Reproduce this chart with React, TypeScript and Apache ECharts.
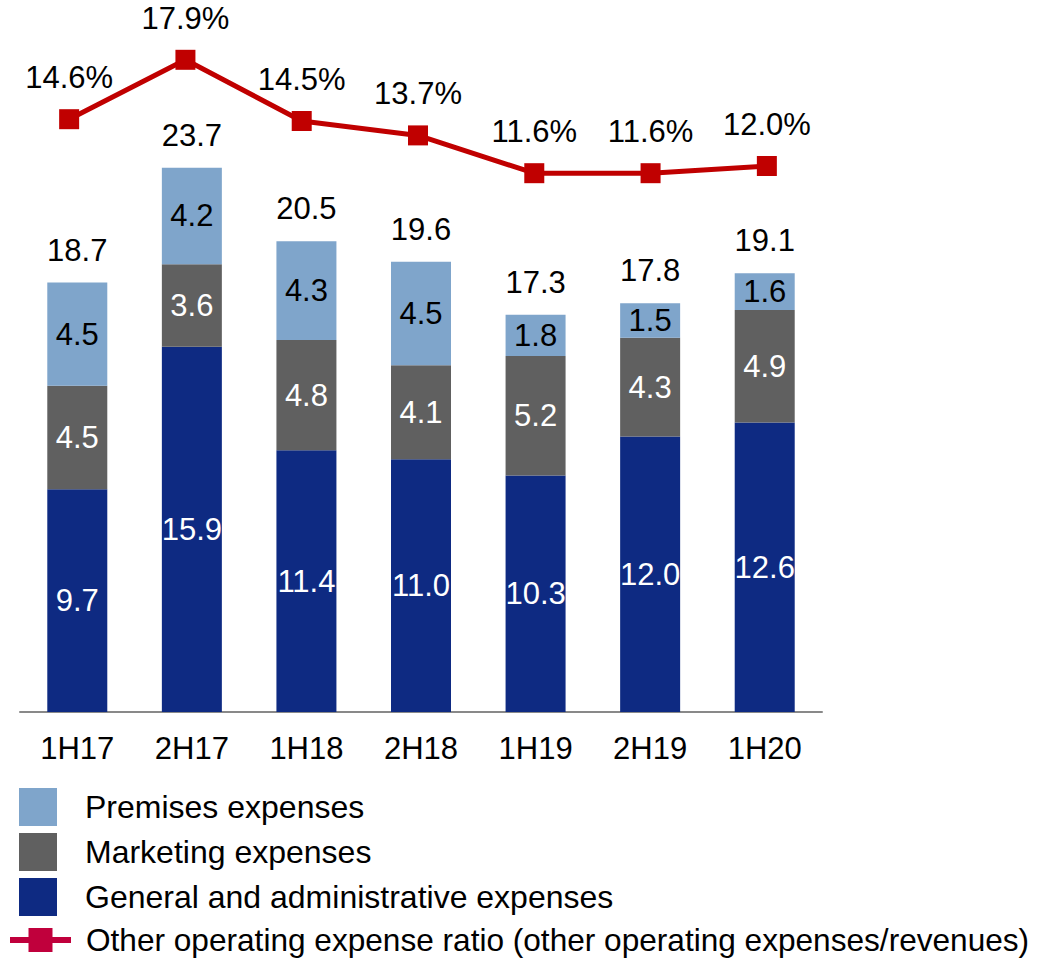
import React, { useEffect, useRef } from 'react';
import * as echarts from 'echarts';

const categories = ['1H17', '2H17', '1H18', '2H18', '1H19', '2H19', '1H20'];
const generalAdmin = [9.7, 15.9, 11.4, 11.0, 10.3, 12.0, 12.6];
const marketing = [4.5, 3.6, 4.8, 4.1, 5.2, 4.3, 4.9];
const premises = [4.5, 4.2, 4.3, 4.5, 1.8, 1.5, 1.6];
const totals = [18.7, 23.7, 20.5, 19.6, 17.3, 17.8, 19.1];
const ratio = [14.6, 17.9, 14.5, 13.7, 11.6, 11.6, 12.0];

const NAME_PREM = 'Premises expenses';
const NAME_MKT = 'Marketing expenses';
const NAME_GA = 'General and administrative expenses';
const NAME_RATIO = 'Other operating expense ratio (other operating expenses/revenues)';

const FONT = "'Liberation Sans', Arial, Helvetica, sans-serif";
const FS = 31;
const LFS = 32;

export default function App() {
  const ref = useRef<HTMLDivElement>(null);
  useEffect(() => {
    if (!ref.current) return;
    const chart = echarts.init(ref.current, undefined, { renderer: 'svg' });
    const fmt1 = (p: any) => Number(p.value).toFixed(1);
    chart.setOption({
      animation: false,
      backgroundColor: '#ffffff',
      textStyle: { fontFamily: FONT },
      grid: [
        { left: 20, top: 23, width: 802, height: 689 },
        { left: 11, top: 22, width: 814, height: 360 },
      ],
      xAxis: [
        {
          gridIndex: 0,
          type: 'category',
          data: categories,
          axisLine: { lineStyle: { color: '#898989', width: 2 } },
          axisTick: { show: false },
          axisLabel: { fontSize: FS, color: '#000', margin: 21, fontFamily: FONT },
        },
        { gridIndex: 1, type: 'category', data: categories, show: false },
      ],
      yAxis: [
        { gridIndex: 0, type: 'value', min: 0, max: 30, show: false },
        { gridIndex: 1, type: 'value', min: 0, max: 20, show: false },
      ],
      legend: [
        {
          data: [NAME_PREM, NAME_MKT, NAME_GA],
          orient: 'vertical',
          left: 14,
          top: 783,
          itemWidth: 38,
          itemHeight: 38,
          itemGap: 7,
          icon: 'rect',
          selectedMode: false,
          textStyle: { fontSize: LFS, color: '#000', fontFamily: FONT, padding: [0, 0, 0, 23] },
        },
        {
          data: [
            {
              name: NAME_RATIO,
              itemStyle: { color: '#c0003c' },
              lineStyle: { color: '#c0003c', width: 6 },
            },
          ],
          left: 7,
          top: 924,
          padding: 0,
          itemWidth: 61,
          itemHeight: 30,
          selectedMode: false,
          textStyle: { fontSize: 31.6, color: '#000', fontFamily: FONT, padding: [0, 0, 0, 10] },
        },
      ],
      series: [
        {
          name: NAME_GA,
          type: 'bar',
          stack: 'exp',
          barWidth: 60,
          data: generalAdmin,
          itemStyle: { color: '#0e2a82' },
          label: { show: true, position: 'inside', color: '#fff', fontSize: FS, fontFamily: FONT, formatter: fmt1 },
        },
        {
          name: NAME_MKT,
          type: 'bar',
          stack: 'exp',
          barWidth: 60,
          data: marketing,
          itemStyle: { color: '#606060' },
          label: { show: true, position: 'inside', color: '#fff', fontSize: FS, fontFamily: FONT, formatter: fmt1 },
        },
        {
          name: NAME_PREM,
          type: 'bar',
          stack: 'exp',
          barWidth: 60,
          data: premises,
          itemStyle: { color: '#7fa5cb' },
          label: { show: true, position: 'inside', color: '#000', fontSize: FS, fontFamily: FONT, formatter: fmt1 },
        },
        {
          name: 'Total',
          type: 'bar',
          stack: 'exp',
          barWidth: 60,
          data: totals.map(() => 0),
          itemStyle: { color: 'transparent' },
          label: {
            show: true,
            position: 'top',
            distance: 17,
            color: '#000',
            fontSize: FS,
            fontFamily: FONT,
            formatter: (p: any) => totals[p.dataIndex].toFixed(1),
          },
        },
        {
          name: NAME_RATIO,
          type: 'line',
          xAxisIndex: 1,
          yAxisIndex: 1,
          data: ratio,
          symbol: 'rect',
          symbolSize: 20,
          itemStyle: { color: '#c00000' },
          lineStyle: { color: '#c00000', width: 5 },
          label: {
            show: true,
            position: 'top',
            distance: 16,
            color: '#000',
            fontSize: FS,
            fontFamily: FONT,
            formatter: (p: any) => Number(p.value).toFixed(1) + '%',
          },
        },
      ],
    });
    return () => chart.dispose();
  }, []);
  return (
    <div
      ref={ref}
      style={{ position: 'absolute', left: 0, top: 0, width: 1037, height: 959 }}
    />
  );
}
